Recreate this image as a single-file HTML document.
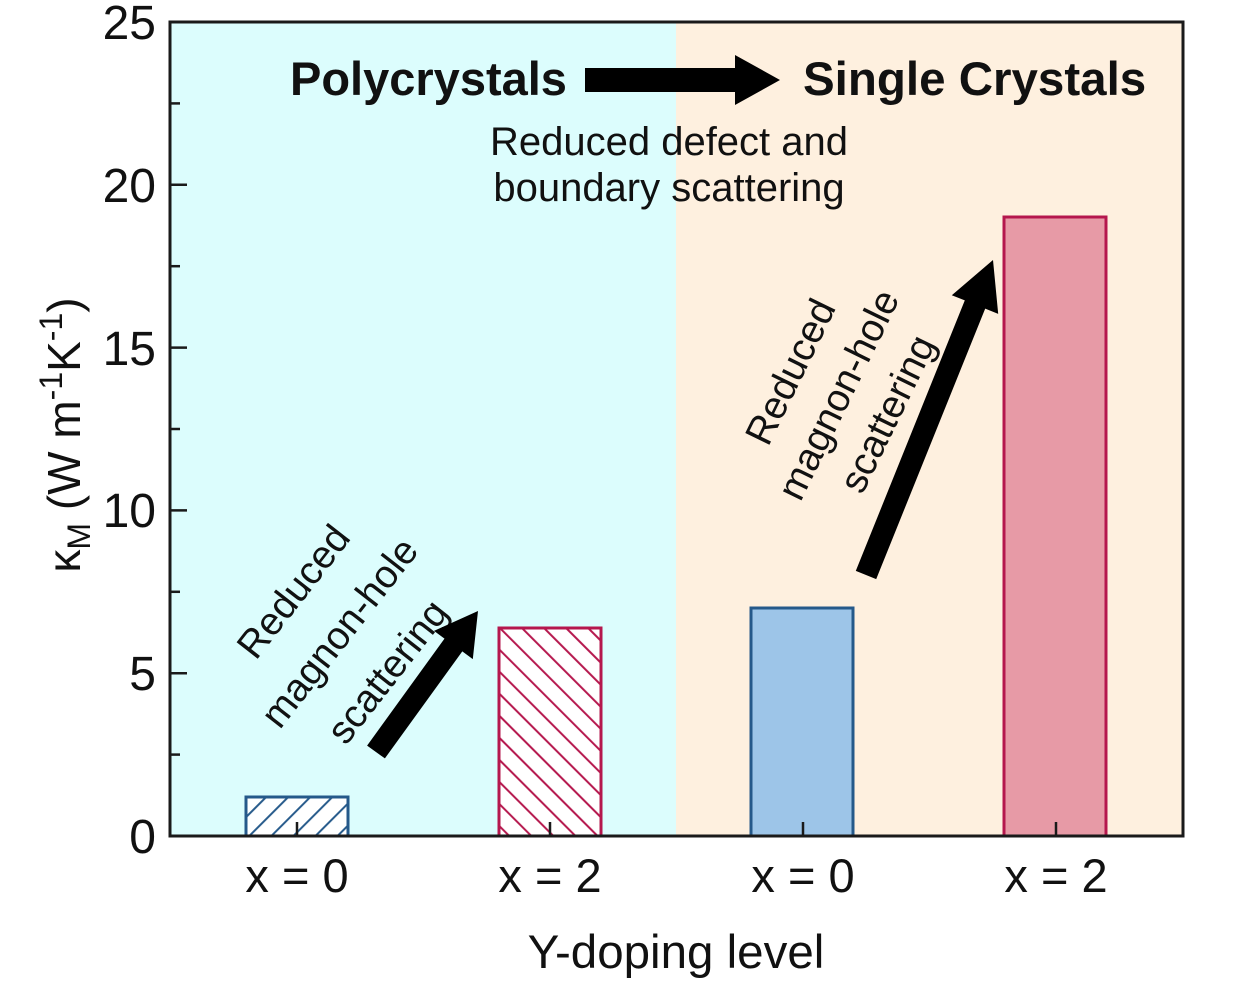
<!DOCTYPE html>
<html><head><meta charset="utf-8"><style>
html,body{margin:0;padding:0;background:#fff;}
svg{display:block;}
text{font-family:"Liberation Sans",Arial,sans-serif;fill:#111;}
</style></head><body>
<svg width="1236" height="994" viewBox="0 0 1236 994" xmlns="http://www.w3.org/2000/svg">
<defs>
<pattern id="hb" patternUnits="userSpaceOnUse" width="15.6" height="15.6" patternTransform="rotate(45)">
<rect width="15.6" height="15.6" fill="#fff"/>
<line x1="3" y1="0" x2="3" y2="15.6" stroke="#25598a" stroke-width="2"/>
</pattern>
<pattern id="hr" patternUnits="userSpaceOnUse" width="15.6" height="15.6" patternTransform="rotate(-45)">
<rect width="15.6" height="15.6" fill="#fff"/>
<line x1="3" y1="0" x2="3" y2="15.6" stroke="#b5174d" stroke-width="2"/>
</pattern>
</defs>
<rect x="0" y="0" width="1236" height="994" fill="#fff"/>
<rect x="170" y="22" width="506" height="814" fill="#dcfdfd"/>
<rect x="676" y="22" width="507" height="814" fill="#fef0df"/>

<!-- bars -->
<rect x="246" y="797" width="102" height="39" fill="url(#hb)" stroke="#25598a" stroke-width="3"/>
<rect x="499" y="628" width="102" height="208" fill="url(#hr)" stroke="#b5174d" stroke-width="3"/>
<rect x="751" y="608" width="102" height="228" fill="#9dc5e8" stroke="#25598a" stroke-width="3"/>
<rect x="1004" y="217" width="102" height="619" fill="#e79aa6" stroke="#b5174d" stroke-width="3"/>

<!-- ticks -->
<g stroke="#1a1a1a" stroke-width="2.5">
<line x1="170" y1="673.2" x2="187" y2="673.2"/>
<line x1="170" y1="510.4" x2="187" y2="510.4"/>
<line x1="170" y1="347.6" x2="187" y2="347.6"/>
<line x1="170" y1="184.8" x2="187" y2="184.8"/>
<line x1="170" y1="754.6" x2="180" y2="754.6"/>
<line x1="170" y1="591.8" x2="180" y2="591.8"/>
<line x1="170" y1="429" x2="180" y2="429"/>
<line x1="170" y1="266.2" x2="180" y2="266.2"/>
<line x1="170" y1="103.4" x2="180" y2="103.4"/>
<line x1="297" y1="836" x2="297" y2="822"/>
<line x1="550" y1="836" x2="550" y2="822"/>
<line x1="803" y1="836" x2="803" y2="822"/>
<line x1="1056" y1="836" x2="1056" y2="822"/>
</g>
<!-- spines -->
<rect x="170" y="22" width="1013" height="814" fill="none" stroke="#1a1a1a" stroke-width="3"/>

<!-- y tick labels -->
<g font-size="48" text-anchor="end">
<text x="156" y="853">0</text>
<text x="156" y="690">5</text>
<text x="156" y="527">10</text>
<text x="156" y="365">15</text>
<text x="156" y="202">20</text>
<text x="156" y="39">25</text>
</g>
<!-- x tick labels -->
<g font-size="47" text-anchor="middle">
<text x="297" y="892">x = 0</text>
<text x="550" y="892">x = 2</text>
<text x="803" y="892">x = 0</text>
<text x="1056" y="892">x = 2</text>
</g>
<text x="676" y="968" font-size="47.5" text-anchor="middle">Y-doping level</text>

<!-- y label -->
<text transform="translate(80,435) rotate(-90)" font-size="46" text-anchor="middle">κ<tspan font-size="32" dy="10">M</tspan><tspan dy="-10"> (W m</tspan><tspan font-size="32" dy="-18">-1</tspan><tspan dy="18">K</tspan><tspan font-size="32" dy="-18">-1</tspan><tspan dy="18">)</tspan></text>

<!-- title -->
<text x="290" y="95" font-size="47" font-weight="bold">Polycrystals</text>
<text x="803" y="95" font-size="47.5" font-weight="bold">Single Crystals</text>
<polygon points="585,68 735,68 735,55 780,80 735,105 735,92 585,92" fill="#000"/>
<g font-size="40" text-anchor="middle">
<text x="669" y="155">Reduced defect and</text>
<text x="669" y="201">boundary scattering</text>
</g>

<!-- rotated annotations -->
<g font-size="39" text-anchor="middle" dominant-baseline="central">
<text transform="translate(294,592) rotate(-52)">Reduced</text>
<text transform="translate(340,633) rotate(-52)">magnon-hole</text>
<text transform="translate(388,672) rotate(-52)">scattering</text>
<text transform="translate(791,372) rotate(-64)">Reduced</text>
<text transform="translate(839,395) rotate(-64)">magnon-hole</text>
<text transform="translate(888,414) rotate(-64)">scattering</text>
</g>

<polygon points="367.1,745.6 444.5,638.6 434.0,630.9 478,611 472.8,659.1 462.3,651.4 384.9,758.4" fill="#000"/>
<polygon points="855.8,570.9 964.8,300.4 951.8,295.2 993,260 998.2,313.9 985.2,308.6 876.2,579.1" fill="#000"/>
</svg>
</body></html>
